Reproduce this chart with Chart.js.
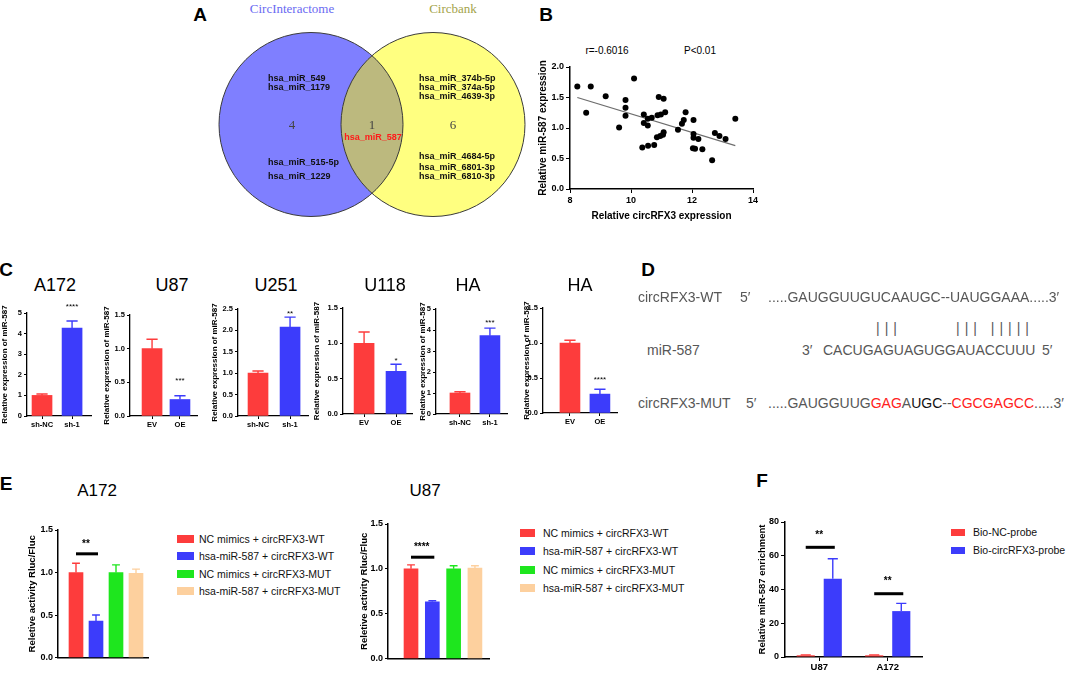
<!DOCTYPE html>
<html>
<head>
<meta charset="utf-8">
<title>circRFX3 / miR-587</title>
<script src="https://cdn.jsdelivr.net/npm/chart.js@4.4.1/dist/chart.umd.min.js"></script>
<style>
  body { margin: 0; background: #fff; }
  #fig { position: relative; width: 1072px; height: 675px; overflow: hidden; background: #fff; }
  #fig canvas { position: absolute; }
  .txt { position: absolute; white-space: nowrap; line-height: 1; }
  .sw { position: absolute; }
</style>
</head>
<body>
<div id="fig"></div>
<script>
const SANS = '"Liberation Sans", Arial, sans-serif';
const SERIF = '"Liberation Serif", "DejaVu Serif", serif';
const RED = '#fd3c3c';
const BLUE = '#3c3cfb';
const GREEN = '#1ee61e';
const PEACH = '#fdd09e';

// A - predicted miRNAs
const vennDbs = ['CircInteractome', 'Circbank'];
const vennCounts = [4, 1, 6];
const onlyInteractome = ['hsa_miR_549', 'hsa_miR_1179', 'hsa_miR_515-5p', 'hsa_miR_1229'];
const inBoth = ['hsa_miR_587'];
const onlyCircbank = ['hsa_miR_374b-5p', 'hsa_miR_374a-5p', 'hsa_miR_4639-3p', 'hsa_miR_4684-5p', 'hsa_miR_6801-3p', 'hsa_miR_6810-3p'];

// B - correlation
const circRFX3Expr = [8.24, 8.68, 8.53, 9.17, 10.10, 9.61, 9.82, 9.82, 9.82, 10.42, 10.42, 10.55, 10.68, 10.55,
  10.37, 10.56, 10.76, 10.91, 11.07, 10.87, 10.98, 11.12, 10.85, 10.96, 11.05, 11.07, 11.54, 11.67, 11.73, 11.79,
  12.05, 12.05, 12.05, 12.21, 12.03, 12.10, 12.34, 12.66, 12.75, 12.90, 13.10, 13.42];
const miR587Expr = [1.68, 1.68, 1.25, 1.52, 1.81, 1.01, 1.46, 1.33, 1.20, 1.22, 1.08, 1.15, 1.17, 1.04,
  0.68, 0.71, 0.72, 1.51, 1.48, 1.21, 1.22, 1.26, 0.85, 0.87, 0.89, 0.93, 0.97, 1.07, 1.13, 1.26,
  1.13, 0.90, 0.84, 0.82, 0.67, 0.66, 0.65, 0.47, 0.92, 0.87, 0.82, 1.15];
const fitX = [8.24, 13.42];
const fitY = [1.50, 0.71];
const bXTicks = ['8', '10', '12', '14'];
const bYTicks = ['0.0', '0.5', '1.0', '1.5', '2.0'];
const corrText = ['r=-0.6016', 'P<0.01'];

// C - miR-587 expression
const cTitles = ['A172', 'U87', 'U251', 'U118', 'HA', 'HA'];
const cGroups = [['sh-NC', 'sh-1'], ['EV', 'OE'], ['sh-NC', 'sh-1'], ['EV', 'OE'], ['sh-NC', 'sh-1'], ['EV', 'OE']];
const cMeans = [[1.0, 4.27], [1.0, 0.245], [1.0, 2.08], [1.0, 0.605], [1.0, 3.73], [1.0, 0.27]];
const cErrors = [[0.07, 0.34], [0.14, 0.055], [0.05, 0.23], [0.16, 0.10], [0.06, 0.36], [0.04, 0.07]];
const cStars = ['****', '***', '**', '*', '***', '****'];
const cTicks = [
  ['0', '1', '2', '3', '4', '5'],
  ['0.0', '0.5', '1.0', '1.5'],
  ['0.0', '0.5', '1.0', '1.5', '2.0', '2.5'],
  ['0.0', '0.5', '1.0', '1.5'],
  ['0', '1', '2', '3', '4', '5'],
  ['0.0', '0.5', '1.0', '1.5']
];

// D - binding site
const wtSeq = '.....GAUGGUUGUCAAUGC--UAUGGAAA.....3′';
const mirSeq = 'CACUGAGUAGUGGAUACCUUU';
const mutSeq = [['.....GAUGGUUG', 'g'], ['GAG', 'r'], ['A', 'g'], ['UGC', 'k'], ['--', 'g'], ['CGCGAGCC', 'r'], ['.....3′', 'g']];
const pairMarks = ['|||', '||| |||||'];

// E - luciferase
const eTitles = ['A172', 'U87'];
const eGroups = ['NC mimics + circRFX3-WT', 'hsa-miR-587 + circRFX3-WT', 'NC mimics + circRFX3-MUT', 'hsa-miR-587 + circRFX3-MUT'];
const eMeans = [[1.0, 0.43, 1.0, 0.99], [1.0, 0.633, 1.0, 1.01]];
const eErrors = [[0.11, 0.07, 0.09, 0.05], [0.045, 0.012, 0.035, 0.025]];
const eSigLevel = [1.22, 1.13];
const eStars = ['**', '****'];
const eTicks = ['0.0', '0.5', '1.0', '1.5'];

// F - pull-down
const fCells = ['U87', 'A172'];
const fProbes = ['Bio-NC-probe', 'Bio-circRFX3-probe'];
const fNC = [1.0, 1.0];
const fNCErr = [0.25, 0.25];
const fCirc = [46.3, 27.2];
const fCircErr = [11.9, 4.6];
const fSigLevel = [65, 37.5];
const fStars = ['**', '**'];
const fTicks = ['0', '20', '40', '60', '80'];

Chart.defaults.font.family = SANS;
Chart.defaults.color = '#000';

const fig = document.getElementById('fig');

const put = (text, x, y, o = {}) => {
  const el = document.createElement('div');
  el.className = 'txt';
  el.textContent = text;
  const shift = {left: '0', center: '-50%', right: '-100%'}[o.align || 'center'];
  el.style.left = x + 'px';
  el.style.top = y + 'px';
  el.style.fontFamily = o.family || SANS;
  el.style.fontSize = (o.size || 10) + 'px';
  el.style.fontWeight = o.weight || 'normal';
  el.style.color = o.color || '#000';
  if (o.spacing) el.style.letterSpacing = o.spacing + 'px';
  el.style.transform = `translate(${shift},-50%)`;
  fig.append(el);
  return el;
};

const swatch = (x, y, w, h, color) => {
  const d = document.createElement('div');
  d.className = 'sw';
  d.style.left = x + 'px';
  d.style.top = (y - h / 2) + 'px';
  d.style.width = w + 'px';
  d.style.height = h + 'px';
  d.style.background = color;
  fig.append(d);
};

const makeCanvas = (left, top, width, height) => {
  const c = document.createElement('canvas');
  c.width = width;
  c.height = height;
  c.style.left = left + 'px';
  c.style.top = top + 'px';
  c.style.width = width + 'px';
  c.style.height = height + 'px';
  fig.append(c);
  return c.getContext('2d');
};

const val = d => (typeof d === 'object' ? d.y : d);
const bold = size => ({size, weight: 'bold', family: SANS});

// error bars (upper only, like the original)
const errPlugin = {
  id: 'errbars',
  afterDatasetsDraw(chart) {
    const {ctx} = chart;
    const y = chart.scales.y;
    chart.data.datasets.forEach((ds, di) => {
      if (!ds.errors) return;
      chart.getDatasetMeta(di).data.forEach((bar, i) => {
        const top = y.getPixelForValue(val(ds.data[i]) + ds.errors[i]);
        const cap = bar.width * 0.28;
        ctx.save();
        ctx.strokeStyle = Array.isArray(ds.backgroundColor) ? ds.backgroundColor[i] : ds.backgroundColor;
        ctx.lineWidth = 1.4;
        ctx.beginPath();
        ctx.moveTo(bar.x, bar.y);
        ctx.lineTo(bar.x, top);
        ctx.moveTo(bar.x - cap, top);
        ctx.lineTo(bar.x + cap, top);
        ctx.stroke();
        ctx.restore();
      });
    });
  }
};

// asterisks, with a bracket line when a level is given
const sigPlugin = {
  id: 'sig',
  afterDatasetsDraw(chart, args, opts) {
    const {ctx} = chart;
    const y = chart.scales.y;
    (opts.marks || []).forEach(m => {
      const a = chart.getDatasetMeta(m.a[0]).data[m.a[1]];
      ctx.save();
      ctx.fillStyle = '#000';
      ctx.font = `${opts.weight || 'normal'} ${opts.size}px ${SANS}`;
      ctx.textAlign = 'center';
      ctx.textBaseline = 'middle';
      if (m.level !== undefined) {
        const b = chart.getDatasetMeta(m.b[0]).data[m.b[1]];
        const ly = y.getPixelForValue(m.level);
        ctx.strokeStyle = '#000';
        ctx.lineWidth = 3;
        ctx.beginPath();
        ctx.moveTo(a.x, ly);
        ctx.lineTo(b.x + 2, ly);
        ctx.stroke();
        ctx.fillText(m.text, (a.x + b.x) / 2, ly - opts.gap);
      } else {
        const ds = chart.data.datasets[m.a[0]];
        const top = y.getPixelForValue(val(ds.data[m.a[1]]) + ds.errors[m.a[1]]);
        ctx.fillText(m.text, a.x, top - opts.gap + 2);
      }
      ctx.restore();
    });
  }
};

const vennPlugin = {
  id: 'venn',
  beforeDatasetsDraw(chart, args, opts) {
    const {ctx, scales: {x, y}} = chart;
    const circles = opts.circles.map(c => ({
      cx: x.getPixelForValue(c.x),
      cy: y.getPixelForValue(c.y),
      r: x.getPixelForValue(c.x + c.r) - x.getPixelForValue(c.x)
    }));
    const path = c => { ctx.beginPath(); ctx.arc(c.cx, c.cy, c.r, 0, Math.PI * 2); };
    ctx.save();
    path(circles[0]); ctx.fillStyle = opts.colors[0]; ctx.fill();
    path(circles[1]); ctx.fillStyle = opts.colors[1]; ctx.fill();
    ctx.save();
    path(circles[0]); ctx.clip();
    path(circles[1]); ctx.fillStyle = opts.colors[2]; ctx.fill();
    ctx.restore();
    ctx.strokeStyle = '#3a3a3a';
    ctx.lineWidth = 1;
    circles.forEach(c => { path(c); ctx.stroke(); });
    ctx.restore();
  }
};

const barChart = c => {
  const ctx = makeCanvas(c.area.l - c.yw, c.area.t - c.pt,
    c.area.r - c.area.l + c.yw + c.pr, c.area.b - c.area.t + c.pt + c.xh);
  const yVals = c.yTicks.map(Number);
  return new Chart(ctx, {
    type: 'bar',
    data: {
      datasets: [{
        data: c.values.map((v, i) => ({x: i + 1, y: v})),
        errors: c.errors,
        backgroundColor: c.colors,
        barThickness: c.barW
      }]
    },
    options: {
      responsive: false,
      animation: false,
      events: [],
      layout: {padding: {top: c.pt, right: c.pr, bottom: 0, left: 0}},
      plugins: {
        legend: {display: false},
        tooltip: {enabled: false},
        sig: {marks: c.marks, size: c.starSize, weight: c.starWeight, gap: c.starGap}
      },
      scales: {
        x: {
          type: 'linear', min: c.xMin, max: c.xMax, offset: false, bounds: 'data',
          afterBuildTicks: a => { a.ticks = c.values.map((v, i) => ({value: i + 1})); },
          afterFit: a => { a.height = c.xh; },
          ticks: {
            display: !!c.labels, callback: v => (c.labels ? c.labels[v - 1] : ''),
            font: bold(c.xFont || 8), color: '#000', padding: 1, autoSkip: false, maxRotation: 0
          },
          grid: {display: true, offset: false, drawOnChartArea: false, drawTicks: !!c.labels, tickLength: 3, color: '#000'},
          border: {display: true, color: '#000', width: c.axisW}
        },
        y: {
          min: yVals[0], max: yVals[yVals.length - 1], bounds: 'data',
          afterBuildTicks: a => { a.ticks = yVals.map(value => ({value})); },
          afterFit: a => { a.width = c.yw; },
          ticks: {callback: (v, i) => c.yTicks[i], font: bold(c.yFont), color: '#000', padding: 2},
          grid: {display: true, drawOnChartArea: false, tickLength: 3, color: '#000'},
          border: {display: true, color: '#000', width: c.axisW},
          title: {display: true, text: c.yTitle, font: bold(c.titleFont), color: '#000', padding: 0}
        }
      }
    },
    plugins: [errPlugin, sigPlugin]
  });
};

// ---------- panel letters ----------
[['A', 200, 14], ['B', 546, 14], ['C', 6, 269], ['D', 648, 269], ['E', 6, 483], ['F', 762, 480]]
  .forEach(([t, x, y]) => put(t, x, y, {size: 19, weight: 'bold'}));

// ---------- A: Venn ----------
const ctxA = makeCanvas(211, 23, 322, 203);
new Chart(ctxA, {
  type: 'scatter',
  data: {datasets: []},
  options: {
    responsive: false, animation: false, events: [],
    layout: {padding: 0},
    plugins: {
      legend: {display: false}, tooltip: {enabled: false},
      venn: {
        circles: [{x: -0.663, y: 0, r: 1}, {x: 0.663, y: 0, r: 1}],
        colors: ['#7f7fff', '#ffff80', '#bcb97e']
      }
    },
    scales: {
      x: {type: 'linear', display: false, min: -1.75, max: 1.75},
      y: {type: 'linear', display: false, min: -1.1, max: 1.1}
    }
  },
  plugins: [vennPlugin]
});
put(vennDbs[0], 292, 8, {family: SERIF, size: 13, color: '#6a6af2'});
put(vennDbs[1], 453, 8, {family: SERIF, size: 13, color: '#a3a34a'});
[292, 372, 453].forEach((x, i) => put(String(vennCounts[i]), x, 124, {family: SERIF, size: 13, color: '#444'}));
[78, 87, 162, 176].forEach((y, i) => put(onlyInteractome[i], 268, y, {size: 9, weight: 'bold', align: 'left', color: '#111'}));
[78, 87, 96, 156, 167, 176].forEach((y, i) => put(onlyCircbank[i], 419, y, {size: 9, weight: 'bold', align: 'left', color: '#111'}));
put(inBoth[0], 373, 137, {size: 9, weight: 'bold', color: '#ff1a1a'});

// ---------- B: scatter ----------
const ctxB = makeCanvas(537, 57, 226, 165);
new Chart(ctxB, {
  type: 'scatter',
  data: {
    datasets: [
      {data: circRFX3Expr.map((x, i) => ({x, y: miR587Expr[i]})), pointRadius: 3, pointBackgroundColor: '#000', pointBorderWidth: 0},
      {data: fitX.map((x, i) => ({x, y: fitY[i]})), showLine: true, pointRadius: 0, borderColor: '#6d6d6d', borderWidth: 1.2}
    ]
  },
  options: {
    responsive: false, animation: false, events: [],
    layout: {padding: {top: 10, right: 10, bottom: 0, left: 0}},
    plugins: {legend: {display: false}, tooltip: {enabled: false}},
    scales: {
      x: {
        type: 'linear', min: Number(bXTicks[0]), max: Number(bXTicks[bXTicks.length - 1]), bounds: 'data',
        afterBuildTicks: a => { a.ticks = bXTicks.map(t => ({value: Number(t)})); },
        afterFit: a => { a.height = 33; },
        ticks: {callback: (v, i) => bXTicks[i], font: bold(9), color: '#000', padding: 2, maxRotation: 0},
        grid: {display: true, drawOnChartArea: false, tickLength: 4, color: '#000'},
        border: {display: true, color: '#000', width: 1.5},
        title: {display: true, text: 'Relative circRFX3 expression', font: bold(10), color: '#000', padding: 0}
      },
      y: {
        min: 0, max: 2, bounds: 'data',
        afterBuildTicks: a => { a.ticks = bYTicks.map(t => ({value: Number(t)})); },
        afterFit: a => { a.width = 33; },
        ticks: {callback: (v, i) => bYTicks[i], font: bold(9), color: '#000', padding: 2},
        grid: {display: true, drawOnChartArea: false, tickLength: 4, color: '#000'},
        border: {display: true, color: '#000', width: 1.5},
        title: {display: true, text: 'Relative miR-587 expression', font: bold(10), color: '#000', padding: 0}
      }
    }
  }
});
put(corrText[0], 607, 51, {size: 10});
put(corrText[1], 700, 51, {size: 10});

// ---------- C: six small bar charts ----------
const cLayout = [
  {area: {l: 27, r: 91, t: 313, b: 416}, yw: 27, xMin: 0.5, xMax: 2.63, starGap: 16, titleX: 55},
  {area: {l: 130, r: 197, t: 315, b: 416}, yw: 28, xMin: 0.21, xMax: 2.61, starGap: 17, titleX: 172},
  {area: {l: 238, r: 308, t: 309, b: 416}, yw: 28, xMin: 0.375, xMax: 2.56, starGap: 5, titleX: 276},
  {area: {l: 343, r: 412, t: 308, b: 414}, yw: 31, xMin: 0.34, xMax: 2.5, starGap: 5, titleX: 385},
  {area: {l: 436, r: 507, t: 309, b: 414}, yw: 18, xMin: 0.2, xMax: 2.57, starGap: 7, titleX: 468},
  {area: {l: 543, r: 617, t: 308, b: 413}, yw: 21, xMin: 0.1, xMax: 2.57, starGap: 11, titleX: 580}
];
cLayout.forEach((lay, k) => {
  barChart({
    ...lay, pt: 14, pr: 4, xh: 18, barW: 20, axisW: 1.3,
    values: cMeans[k], errors: cErrors[k], colors: [RED, BLUE], labels: cGroups[k],
    yTicks: cTicks[k], yTitle: 'Relative expression of miR-587',
    xFont: 7.5, yFont: 7.5, titleFont: 8,
    marks: [{a: [0, 1], text: cStars[k]}], starSize: 8
  });
  put(cTitles[k], lay.titleX, 285, {size: 18});
});

// ---------- D: sequences ----------
const dGray = '#575757';
const dCol = {g: dGray, r: '#ff2020', k: '#111'};
put('circRFX3-WT', 638, 297, {size: 14, color: dGray, align: 'left'});
put('5′', 740, 297, {size: 14, color: dGray, align: 'left'});
put(wtSeq, 768, 297, {size: 14, color: dGray, align: 'left'});
put(pairMarks[0], 876, 328, {size: 14, color: '#5a5a5a', align: 'left', spacing: 5});
put(pairMarks[1], 956, 328, {size: 14, color: '#5a5a5a', align: 'left', spacing: 5});
put('miR-587', 647, 350, {size: 14, color: dGray, align: 'left'});
put('3′', 802, 350, {size: 14, color: dGray, align: 'left'});
put(mirSeq, 823, 350, {size: 14, color: dGray, align: 'left'});
put('5′', 1042, 350, {size: 14, color: dGray, align: 'left'});
put('circRFX3-MUT', 638, 403, {size: 14, color: dGray, align: 'left'});
put('5′', 746, 403, {size: 14, color: dGray, align: 'left'});
const mutEl = put('', 768, 403, {size: 14, color: dGray, align: 'left'});
mutSeq.forEach(([t, c]) => {
  const s = document.createElement('span');
  s.textContent = t;
  s.style.color = dCol[c];
  mutEl.append(s);
});

// ---------- E: luciferase ----------
const eColors = [RED, BLUE, GREEN, PEACH];
const eLayout = [
  {area: {l: 58, r: 148, t: 530, b: 658}, yw: 31, xMin: 0.1, xMax: 4.6, titleX: 97,
    legend: {sx: 177, sw: 17, tx: 199, y0: 539, step: 17.3}},
  {area: {l: 388, r: 489, t: 524, b: 659}, yw: 29, xMin: -0.08, xMax: 4.66, titleX: 425,
    legend: {sx: 520, sw: 15, tx: 543, y0: 533, step: 18.3}}
];
eLayout.forEach((lay, k) => {
  barChart({
    ...lay, pt: 8, pr: 4, xh: 7, barW: 14, axisW: 1.5,
    values: eMeans[k], errors: eErrors[k], colors: eColors, labels: null,
    yTicks: eTicks, yTitle: 'Reletive activity Rluc/Fluc',
    yFont: 9, titleFont: 9.5,
    marks: [{a: [0, 0], b: [0, 1], level: eSigLevel[k], text: eStars[k]}], starSize: 10, starWeight: 'bold', starGap: 10
  });
  put(eTitles[k], lay.titleX, 490, {size: 17});
  eGroups.forEach((g, i) => {
    const y = lay.legend.y0 + i * lay.legend.step;
    swatch(lay.legend.sx, y, lay.legend.sw, 8, eColors[i]);
    put(g, lay.legend.tx, y, {size: 10.5, align: 'left', color: '#111'});
  });
});

// ---------- F: pull-down ----------
const ctxF = makeCanvas(757, 512, 169, 162);
new Chart(ctxF, {
  type: 'bar',
  data: {
    labels: fCells,
    datasets: [
      {label: fProbes[0], data: fNC, errors: fNCErr, backgroundColor: RED, categoryPercentage: 0.79, barPercentage: 0.67},
      {label: fProbes[1], data: fCirc, errors: fCircErr, backgroundColor: BLUE, categoryPercentage: 0.79, barPercentage: 0.67}
    ]
  },
  options: {
    responsive: false, animation: false, events: [],
    layout: {padding: {top: 10, right: 4, bottom: 0, left: 0}},
    plugins: {
      legend: {display: false}, tooltip: {enabled: false},
      sig: {
        marks: fCells.map((c, i) => ({a: [0, i], b: [1, i], level: fSigLevel[i], text: fStars[i]})),
        size: 10, weight: 'bold', gap: 12
      }
    },
    scales: {
      x: {
        offset: true,
        afterFit: a => { a.height = 17; },
        ticks: {font: bold(9.5), color: '#000', padding: 1, maxRotation: 0},
        grid: {display: true, offset: false, drawOnChartArea: false, tickLength: 4, color: '#000'},
        border: {display: true, color: '#000', width: 1.5}
      },
      y: {
        min: 0, max: 80, bounds: 'data',
        afterBuildTicks: a => { a.ticks = fTicks.map(t => ({value: Number(t)})); },
        afterFit: a => { a.width = 28; },
        ticks: {callback: (v, i) => fTicks[i], font: bold(9), color: '#000', padding: 2},
        grid: {display: true, drawOnChartArea: false, tickLength: 4, color: '#000'},
        border: {display: true, color: '#000', width: 1.5},
        title: {display: true, text: 'Relative miR-587 enrichment', font: bold(9.5), color: '#000', padding: 0}
      }
    }
  },
  plugins: [errPlugin, sigPlugin]
});
[RED, BLUE].forEach((col, i) => {
  const y = 532 + i * 18;
  swatch(951, y, 14, 7, col);
  put(fProbes[i], 973, y, {size: 10.5, align: 'left', color: '#111'});
});
</script>
</body>
</html>
